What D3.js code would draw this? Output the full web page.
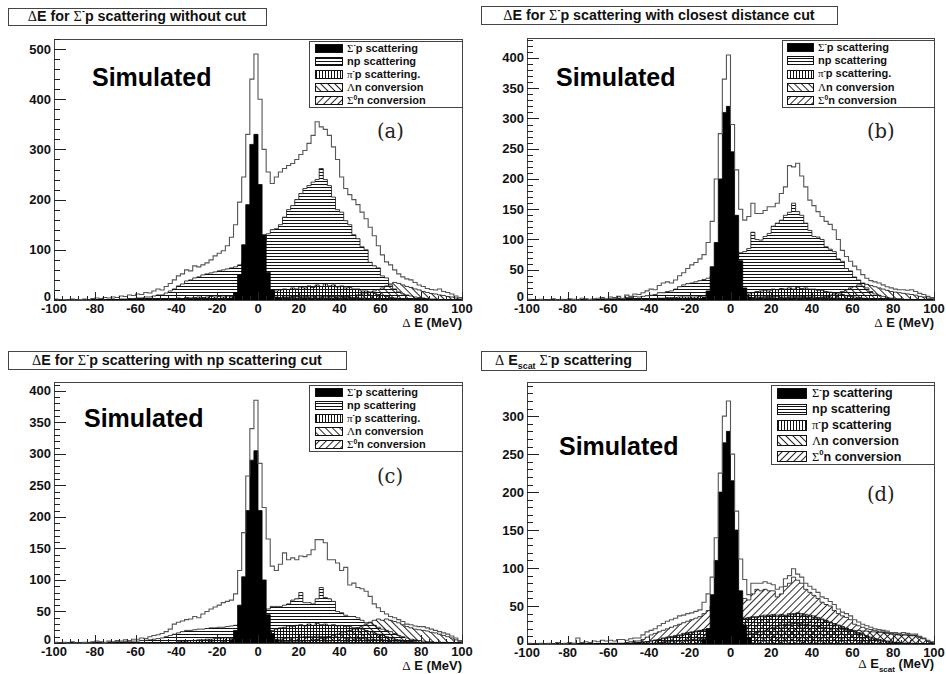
<!DOCTYPE html>
<html><head><meta charset="utf-8">
<script src="https://cdn.jsdelivr.net/npm/d3@7/dist/d3.min.js"></script>
<style>html,body{margin:0;padding:0;background:#fff}svg{display:block}</style>
</head><body>
<svg id="chart" width="946" height="674"></svg>
<script>
// ---------------- DATA (2 MeV bins from -100 to 100, 100 bins) ----------------
const xTicks = [-100,-80,-60,-40,-20,0,20,40,60,80,100];
const yTicksA = [0,100,200,300,400,500];
const yTicksB = [0,50,100,150,200,250,300,350,400];
const yTicksC = [0,50,100,150,200,250,300,350,400];
const yTicksD = [0,50,100,150,200,250,300];

// Panel (a): without cut
const totA = [
2,0,1,0,2,0,1,2,0,3,
4,3,5,4,6,5,8,7,10,9,
12,11,15,14,18,22,20,27,33,40,
48,52,60,58,68,66,70,74,80,88,
93,98,108,125,150,195,245,330,440,490,
400,300,255,232,245,255,262,268,272,280,
290,298,312,328,355,345,340,328,305,280,
245,222,210,200,190,175,162,145,128,108,
90,76,70,60,52,46,42,40,35,30,
27,23,21,20,22,17,15,12,8,5];
const spA = [
0,0,0,0,0,0,0,0,0,0, 0,0,0,0,0,0,0,0,0,0,
0,0,0,0,0,0,0,0,0,0, 0,0,0,0,0,0,0,0,0,0,
0,0,0,4,15,50,110,190,310,330,
230,130,55,20,6,2,0,0,0,0,
0,0,0,0,0,0,0,0,0,0, 0,0,0,0,0,0,0,0,0,0,
0,0,0,0,0,0,0,0,0,0, 0,0,0,0,0,0,0,0,0,0];
const npA = [
0,0,0,0,0,0,0,0,0,1,
0,1,1,0,2,1,2,2,3,3,
4,4,6,6,8,10,10,14,18,22,
28,32,38,40,44,46,50,52,54,56,
58,60,62,64,66,70,74,80,86,94,
104,118,132,140,142,150,165,180,188,200,
212,222,228,235,240,262,240,228,205,180,
175,158,150,130,122,106,100,75,68,64,
48,44,30,22,16,12,10,8,6,5,
4,3,2,2,1,1,0,0,0,0];
const pipA = [
0,0,0,0,0,0,0,0,0,0, 0,0,0,0,0,0,0,0,0,0,
0,0,0,0,0,1,2,2,3,3,
4,3,5,4,5,6,5,6,7,6,
7,6,8,7,8,6,5,4,3,3,
4,6,10,15,18,20,22,21,24,22,
26,24,28,25,30,27,32,28,30,26,
28,24,25,22,22,18,18,15,14,11,
9,7,5,4,3,2,1,1,0,0,
0,0,0,0,0,0,0,0,0,0];
const lamA = [
0,0,0,0,0,0,0,0,0,0, 0,0,0,0,0,0,0,0,0,0, 0,0,0,0,0,0,0,0,0,0,
1,0,1,1,1,2,1,2,2,1,
2,2,1,2,1,1,1,1,1,1,
2,2,3,3,4,4,5,5,6,6,
5,5,5,6,6,6,6,6,6,6,
7,7,8,9,10,12,14,16,18,21,
24,28,32,35,33,30,27,25,22,20,
17,15,13,12,10,9,7,6,4,2];
const s0A = [
0,0,0,0,0,0,0,0,0,0, 0,0,0,0,0,0,0,0,0,0, 0,0,0,0,0,0,0,0,0,0,
0,0,0,0,0,1,1,2,1,2,
2,2,1,1,1,1,1,1,1,1,
1,2,3,4,5,5,6,6,7,7,
8,7,8,8,9,8,8,7,7,6,
6,5,5,5,4,4,4,3,3,3,
3,2,2,2,2,1,1,1,1,1,
0,0,0,0,0,0,0,0,0,0];

// Panel (b): closest distance cut
const totB = [
1,0,0,1,0,0,2,0,1,0,
2,1,0,3,2,1,2,3,4,2,
5,4,6,3,8,6,10,9,12,15,
18,17,24,28,30,28,33,40,45,52,
58,62,68,75,95,130,200,275,365,405,
290,215,150,132,138,160,143,143,148,154,
154,160,176,187,222,220,226,205,187,165,
156,146,138,130,125,116,100,82,72,64,
56,50,42,36,32,30,28,25,22,20,
18,17,17,16,17,14,11,9,6,4];
const spB = [
0,0,0,0,0,0,0,0,0,0, 0,0,0,0,0,0,0,0,0,0,
0,0,0,0,0,0,0,0,0,0, 0,0,0,0,0,0,0,0,0,0,
0,0,0,4,15,55,95,200,310,320,
245,140,65,20,5,0,0,0,0,0,
0,0,0,0,0,0,0,0,0,0, 0,0,0,0,0,0,0,0,0,0,
0,0,0,0,0,0,0,0,0,0, 0,0,0,0,0,0,0,0,0,0];
const npB = [
0,0,0,0,0,0,0,0,0,0,
0,1,0,1,1,0,1,1,2,1,
2,2,3,2,4,4,6,5,6,7,
8,9,12,12,14,15,18,22,25,27,
28,30,32,34,36,40,44,48,52,56,
62,70,78,80,85,112,100,99,105,110,
122,127,132,140,145,160,146,140,127,115,
105,104,100,88,84,80,68,64,52,48,
38,33,28,20,14,10,8,6,4,3,
2,2,1,1,1,0,0,0,0,0];
const pipB = [
0,0,0,0,0,0,0,0,0,0, 0,0,0,0,0,0,0,0,0,0, 0,0,0,0,0,0,0,0,0,0,
2,2,3,3,4,4,4,5,5,5,
5,5,6,5,4,3,2,2,2,3,
4,4,5,8,10,12,14,15,16,15,
18,17,19,18,20,18,21,19,20,18,
18,16,16,14,13,12,10,9,7,6,
5,4,3,2,1,1,0,0,0,0,
0,0,0,0,0,0,0,0,0,0];
const lamB = [
0,0,0,0,0,0,0,0,0,0, 0,0,0,0,0,0,0,0,0,0, 0,0,0,0,0,0,0,0,0,0,
0,1,0,1,1,1,0,1,1,1,
1,1,1,1,1,1,1,1,1,1,
2,2,2,3,3,3,3,4,4,4,
3,3,4,4,4,4,4,4,4,4,
3,4,5,6,8,10,12,14,17,20,
22,25,27,26,24,22,20,18,16,14,
13,12,11,10,9,8,6,5,3,2];
const s0B = [
0,0,0,0,0,0,0,0,0,0, 0,0,0,0,0,0,0,0,0,0, 0,0,0,0,0,0,0,0,0,0,
0,0,0,0,0,0,0,0,0,0, 0,0,0,0,0,0,0,0,0,0,
1,1,2,3,4,4,5,5,6,6,
6,6,7,7,7,6,6,6,5,5,
5,4,4,4,3,3,3,2,2,2,
2,2,1,1,1,1,1,1,1,0,
0,0,0,0,0,0,0,0,0,0];

// Panel (c): np scattering cut
const totC = [
1,0,1,0,2,0,0,1,0,2,
3,2,1,3,2,4,3,5,4,6,
6,8,7,10,12,13,15,18,22,30,
33,35,37,38,42,40,46,50,54,57,
60,64,66,68,78,115,175,265,340,385,
285,215,165,122,115,125,143,132,135,132,
138,137,140,148,164,164,159,132,132,127,
115,120,92,95,88,86,82,74,62,56,
50,46,42,40,37,34,30,29,27,26,
26,24,22,20,18,16,14,11,8,4];
const spC = [
0,0,0,0,0,0,0,0,0,0, 0,0,0,0,0,0,0,0,0,0,
0,0,0,0,0,0,0,0,0,0, 0,0,0,0,0,0,0,0,0,0,
0,0,0,5,20,60,105,210,290,305,
210,100,45,15,5,0,0,0,0,0,
0,0,0,0,0,0,0,0,0,0, 0,0,0,0,0,0,0,0,0,0,
0,0,0,0,0,0,0,0,0,0, 0,0,0,0,0,0,0,0,0,0];
const npC = [
0,0,0,0,0,0,0,0,1,0,
0,1,0,1,1,2,1,2,2,3,
3,4,4,5,6,7,8,10,12,14,
16,18,20,20,21,22,22,23,24,24,
25,25,26,27,28,30,32,35,38,42,
46,50,54,58,58,58,60,62,68,70,
80,64,64,62,70,88,72,70,66,50,
48,44,42,42,40,36,32,32,28,25,
22,20,18,15,12,10,8,6,5,4,
3,2,2,1,1,1,0,0,0,0];
const pipC = [
0,0,0,0,0,0,0,0,0,0, 0,0,0,0,0,0,0,0,0,0, 0,0,0,0,0,0,0,0,0,0,
2,3,3,4,4,5,5,6,6,7,
7,8,8,7,6,5,4,4,5,6,
8,12,16,20,22,24,25,27,26,28,
29,27,30,28,31,29,30,28,29,27,
28,26,26,24,24,22,20,18,16,14,
12,10,8,6,5,4,3,2,1,1,
0,0,0,0,0,0,0,0,0,0];
const lamC = [
0,0,0,0,0,0,0,0,0,0, 0,0,0,0,0,0,0,0,0,0, 0,0,0,0,0,0,0,0,0,0,
0,1,0,1,1,1,1,1,2,1,
1,2,1,1,1,1,1,1,1,1,
1,1,2,2,2,2,3,3,3,3,
3,4,4,5,6,7,8,10,12,14,
16,18,20,22,24,27,30,33,36,38,
36,38,36,34,32,29,26,24,22,21,
20,19,17,16,14,12,10,8,5,2];
const s0C = [
0,0,0,0,0,0,0,0,0,0, 0,0,0,0,0,0,0,0,0,0, 0,0,0,0,0,0,0,0,0,0,
0,0,0,0,0,0,0,0,0,0, 0,0,0,0,0,0,0,0,0,0,
2,3,4,5,6,6,7,8,8,9,
9,10,10,10,11,10,10,10,9,9,
9,8,8,8,7,7,6,6,5,5,
5,4,4,3,3,3,2,2,2,1,
0,0,0,0,0,0,0,0,0,0];

// Panel (d): Delta E_scat
const totD = [
1,0,0,1,0,1,0,2,0,1,
2,1,8,2,3,2,4,3,5,4,
5,4,6,6,5,7,8,8,12,16,
18,20,24,27,30,32,34,37,38,40,
41,43,45,55,66,88,140,225,300,320,
250,175,112,85,65,80,80,80,82,80,
78,72,75,86,90,99,92,88,80,76,
72,68,62,60,56,52,46,42,40,37,
32,29,26,24,22,20,19,18,17,15,
15,14,15,14,13,13,10,8,5,3];
const spD = [
0,0,0,0,0,0,0,0,0,0, 0,0,0,0,0,0,0,0,0,0,
0,0,0,0,0,0,0,0,0,0, 0,0,0,0,0,0,0,0,0,0,
0,0,0,6,20,65,110,200,265,280,
215,150,70,25,8,0,0,0,0,0,
0,0,0,0,0,0,0,0,0,0, 0,0,0,0,0,0,0,0,0,0,
0,0,0,0,0,0,0,0,0,0, 0,0,0,0,0,0,0,0,0,0];
const npD = [
0,0,0,0,0,0,0,0,0,0, 0,0,0,0,0,0,0,0,0,0,
0,0,0,0,0,1,1,2,2,3,
4,5,6,7,8,9,10,11,12,14,
15,16,17,18,19,20,22,24,26,28,
28,30,32,33,34,35,35,36,36,37,
37,36,38,37,38,39,40,38,37,36,
35,33,32,30,28,26,24,22,20,18,
16,14,12,10,8,6,5,4,3,2,
2,1,1,1,0,0,0,0,0,0];
const pipD = [
0,0,0,0,0,0,0,0,0,0, 0,0,0,0,0,0,0,0,0,0,
0,0,0,0,0,1,2,2,3,3,
4,5,6,8,9,10,11,12,14,15,
16,17,18,19,20,21,22,24,27,29,
29,31,33,34,35,36,36,37,38,38,
39,38,39,38,40,40,41,40,39,38,
37,35,33,31,29,27,25,23,21,19,
17,15,13,11,9,7,6,5,4,3,
2,2,1,1,1,0,0,0,0,0];
const lamD = [
0,0,0,0,0,0,0,0,0,0, 0,0,0,0,0,0,0,0,0,0, 0,0,0,0,0,0,0,0,0,0,
1,1,2,2,3,3,4,4,5,5,
6,6,7,7,8,8,8,9,9,10,
10,11,12,12,13,14,15,16,18,20,
22,24,25,26,26,27,27,26,26,25,
24,23,22,21,21,20,20,19,19,18,
18,18,17,17,16,16,15,15,14,13,
13,12,12,12,11,11,9,7,4,2];
const s0D = [
0,0,0,0,0,0,0,0,0,0, 0,0,0,0,0,0,0,0,0,0,
1,1,1,1,2,3,4,4,6,9,
12,14,16,18,20,22,24,26,28,30,
32,34,36,40,44,50,55,60,62,64,
60,58,55,60,58,66,72,70,72,70,
70,62,66,76,80,88,84,80,72,68,
64,60,55,52,50,44,40,37,35,32,
26,24,22,20,19,18,17,16,15,14,
13,12,12,12,11,11,9,7,4,2];

// ---------------- RENDER ----------------
const SANS = "'Liberation Sans', Arial, Helvetica, sans-serif";
const SERIF = "'Liberation Serif', 'DejaVu Serif', 'Times New Roman', serif";
const svg = d3.select('#chart');
svg.append('rect').attr('width',946).attr('height',674).attr('fill','#fff');
const defs = svg.append('defs');

function hatch(id, w, h, ln, rot) {
  const p = defs.append('pattern').attr('id', id).attr('patternUnits','userSpaceOnUse')
    .attr('width', w).attr('height', h);
  if (rot) p.attr('patternTransform', `rotate(${rot})`);
  p.append('line').attr('x1', ln[0]).attr('y1', ln[1]).attr('x2', ln[2]).attr('y2', ln[3])
    .attr('stroke', '#111').attr('stroke-width', rot ? 0.9 : 1);
}
hatch('pH', 4, 3, [0, 1.5, 4, 1.5]);
hatch('pV', 3, 4, [1.5, 0, 1.5, 4]);
hatch('pB', 5, 5, [2.5, 0, 2.5, 5], -45);
hatch('pS', 5, 5, [2.5, 0, 2.5, 5], 45);

function rich(sel, parts, fs) {
  let cur = 0;
  parts.forEach(p => {
    const shift = p.sup ? -fs * 0.42 : (p.sub ? fs * 0.3 : 0);
    const ts = sel.append('tspan').text(p.t).attr('dy', shift - cur);
    cur = shift;
    if (p.serif) ts.attr('font-family', SERIF).attr('font-weight', 'normal');
    if (p.sup || p.sub) ts.attr('font-size', fs * 0.62);
  });
}

const legendParts = (pipDot) => [
  [{t:'Σ',serif:1},{t:'-',sup:1},{t:'p scattering'}],
  [{t:'np scattering'}],
  [{t:'π',serif:1},{t:'-',sup:1},{t:'p scattering' + (pipDot ? '.' : '')}],
  [{t:'Λ',serif:1},{t:'n conversion'}],
  [{t:'Σ',serif:1},{t:'0',sup:1},{t:'n conversion'}]
];
const legendFills = ['#000', 'url(#pH)', 'url(#pV)', 'url(#pB)', 'url(#pS)'];

const panels = [
  {L:54, R:462, T:39, B:300, ymax:520, yTicks:yTicksA, yMinor:20,
   tot:totA, sp:spA, np:npA, pip:pipA, lam:lamA, s0:s0A,
   title:[{t:'Δ',serif:1},{t:'E for '},{t:'Σ',serif:1},{t:'-',sup:1},{t:'p scattering without cut'}],
   tbox:[8,8,266,25], tbase:20.5,
   xt:[{t:'Δ',serif:1},{t:' E (MeV)'}], xtY:26.5,
   leg:{x0:309,y0:41,x1:462,y1:107,sw:315,swW:27,swH:8,tx:347,fs:11,dot:true},
   sim:[92,86], lab:'(a)', labPos:[377,138]},
  {L:527, R:934, T:38, B:300, ymax:433, yTicks:yTicksB, yMinor:10,
   tot:totB, sp:spB, np:npB, pip:pipB, lam:lamB, s0:s0B,
   title:[{t:'Δ',serif:1},{t:'E for '},{t:'Σ',serif:1},{t:'-',sup:1},{t:'p scattering with closest distance cut'}],
   tbox:[481,6,837,24], tbase:19.5,
   xt:[{t:'Δ',serif:1},{t:' E (MeV)'}], xtY:26.5,
   leg:{x0:782,y0:40,x1:934,y1:107,sw:787,swW:26,swH:8,tx:818,fs:11,dot:true},
   sim:[556,86], lab:'(b)', labPos:[867,138]},
  {L:54, R:462, T:382, B:643, ymax:414, yTicks:yTicksC, yMinor:10,
   tot:totC, sp:spC, np:npC, pip:pipC, lam:lamC, s0:s0C,
   title:[{t:'Δ',serif:1},{t:'E for '},{t:'Σ',serif:1},{t:'-',sup:1},{t:'p scattering with np scattering cut'}],
   tbox:[8,351,346,369], tbase:364.5,
   xt:[{t:'Δ',serif:1},{t:' E (MeV)'}], xtY:26.5,
   leg:{x0:309,y0:385,x1:462,y1:451,sw:315,swW:27,swH:8,tx:347,fs:11,dot:true},
   sim:[84,427], lab:'(c)', labPos:[377,483]},
  {L:527, R:934, T:382, B:644, ymax:345, yTicks:yTicksD, yMinor:10,
   tot:totD, sp:spD, np:npD, pip:pipD, lam:lamD, s0:s0D,
   title:[{t:'Δ',serif:1},{t:' E'},{t:'scat',sub:1},{t:' '},{t:'Σ',serif:1},{t:'-',sup:1},{t:'p scattering'}],
   tbox:[481,351,646,370], tbase:365,
   xt:[{t:'Δ',serif:1},{t:' E'},{t:'scat',sub:1},{t:' (MeV)'}], xtY:24,
   leg:{x0:771,y0:385,x1:934,y1:464,sw:777,swW:29,swH:10,tx:812,fs:12.5,dot:false},
   sim:[559,455], lab:'(d)', labPos:[867,501]}
];

const binLo = d3.range(-100, 100, 2);

panels.forEach((p, k) => {
  const g = svg.append('g');
  const x = d3.scaleLinear().domain([-100, 100]).range([p.L, p.R]);
  const y = d3.scaleLinear().domain([0, p.ymax]).range([p.B, p.T]);
  const cid = 'clip' + k;
  defs.append('clipPath').attr('id', cid).append('rect')
    .attr('x', p.L).attr('y', p.T).attr('width', p.R - p.L).attr('height', p.B - p.T);
  const pts = vals => binLo.map((b, i) => ({x: b, v: vals[i]})).concat([{x: 100, v: vals[vals.length - 1]}]);
  const area = d3.area().curve(d3.curveStepAfter).x(d => x(d.x)).y0(y(0)).y1(d => y(d.v));
  const line = d3.line().curve(d3.curveStepAfter).x(d => x(d.x)).y(d => y(d.v));
  const hg = g.append('g').attr('clip-path', `url(#${cid})`);
  const comps = [[p.np, 'url(#pH)'], [p.pip, 'url(#pV)'], [p.lam, 'url(#pB)'], [p.s0, 'url(#pS)']];
  comps.forEach(([vals, fill]) => {
    hg.append('path').attr('d', area(pts(vals))).attr('fill', fill)
      .attr('stroke', '#111').attr('stroke-width', 0.8);
  });
  hg.append('path').attr('d', area(pts(p.sp))).attr('fill', '#000').attr('stroke', '#000').attr('stroke-width', 0.8);
  const tp = [{x: -100, v: 0}].concat(pts(p.tot)).concat([{x: 100, v: 0}]);
  hg.append('path').attr('d', line(tp)).attr('fill', 'none').attr('stroke', '#555').attr('stroke-width', 1.1);

  // frame
  g.append('rect').attr('x', p.L + 0.5).attr('y', p.T + 0.5).attr('width', p.R - p.L).attr('height', p.B - p.T)
    .attr('fill', 'none').attr('stroke', '#444').attr('stroke-width', 1).attr('shape-rendering', 'crispEdges');

  // y axis ticks
  const ax = g.append('g').attr('stroke', '#222').attr('stroke-width', 1).attr('shape-rendering', 'crispEdges');
  d3.range(0, p.ymax + 0.001, p.yMinor).forEach(v => {
    const major = p.yTicks.includes(v);
    ax.append('line').attr('x1', p.L).attr('x2', p.L + (major ? 12 : 6)).attr('y1', Math.round(y(v)) + 0.5).attr('y2', Math.round(y(v)) + 0.5);
  });
  p.yTicks.forEach(v => {
    g.append('text').attr('x', p.L - 3).attr('y', y(v) + (v === 0 ? 1 : 4.5)).attr('text-anchor', 'end')
      .attr('font-family', SANS).attr('font-weight', 'bold').attr('font-size', 13).attr('fill', '#111').text(v);
  });
  // x axis ticks
  d3.range(-100, 100.001, 4).forEach(v => {
    const major = xTicks.includes(v);
    ax.append('line').attr('x1', Math.round(x(v)) + 0.5).attr('x2', Math.round(x(v)) + 0.5)
      .attr('y1', p.B).attr('y2', p.B - (major ? 8 : 4));
  });
  xTicks.forEach(v => {
    g.append('text').attr('x', x(v)).attr('y', p.B + 13).attr('text-anchor', 'middle')
      .attr('font-family', SANS).attr('font-weight', 'bold').attr('font-size', 13).attr('fill', '#111').text(v);
  });
  // x title
  rich(g.append('text').attr('x', p.R).attr('y', p.B + p.xtY).attr('text-anchor', 'end')
    .attr('font-family', SANS).attr('font-weight', 'bold').attr('font-size', 13).attr('fill', '#111'), p.xt, 13);

  // title box
  const [bx0, by0, bx1, by1] = p.tbox;
  g.append('rect').attr('x', bx0 + 0.5).attr('y', by0 + 0.5).attr('width', bx1 - bx0).attr('height', by1 - by0)
    .attr('fill', '#fff').attr('stroke', '#444').attr('shape-rendering', 'crispEdges');
  rich(g.append('text').attr('x', (bx0 + bx1) / 2).attr('y', p.tbase).attr('text-anchor', 'middle')
    .attr('font-family', SANS).attr('font-weight', 'bold').attr('font-size', 14.3).attr('fill', '#111'), p.title, 14.3);

  // legend
  const lg = p.leg;
  g.append('rect').attr('x', lg.x0 + 0.5).attr('y', lg.y0 + 0.5).attr('width', lg.x1 - lg.x0).attr('height', lg.y1 - lg.y0)
    .attr('fill', '#fff').attr('stroke', '#444').attr('shape-rendering', 'crispEdges');
  const rowH = (lg.y1 - lg.y0) / 5;
  legendParts(lg.dot).forEach((parts, i) => {
    const cy = lg.y0 + rowH * (i + 0.5);
    g.append('rect').attr('x', lg.sw + 0.5).attr('y', Math.round(cy - lg.swH / 2) + 0.5).attr('width', lg.swW).attr('height', lg.swH)
      .attr('fill', legendFills[i]).attr('stroke', '#111').attr('shape-rendering', 'crispEdges');
    rich(g.append('text').attr('x', lg.tx).attr('y', cy + lg.fs * 0.36)
      .attr('font-family', SANS).attr('font-weight', 'bold').attr('font-size', lg.fs).attr('fill', '#111'), parts, lg.fs);
  });

  // Simulated & panel label
  g.append('text').attr('x', p.sim[0]).attr('y', p.sim[1]).attr('font-family', SANS).attr('font-weight', 'bold')
    .attr('font-size', 25).attr('fill', '#000').text('Simulated');
  g.append('text').attr('x', p.labPos[0]).attr('y', p.labPos[1]).attr('font-family', "'DejaVu Serif', serif")
    .attr('font-size', 19.5).attr('fill', '#222').text(p.lab);
});
</script>
</body></html>
